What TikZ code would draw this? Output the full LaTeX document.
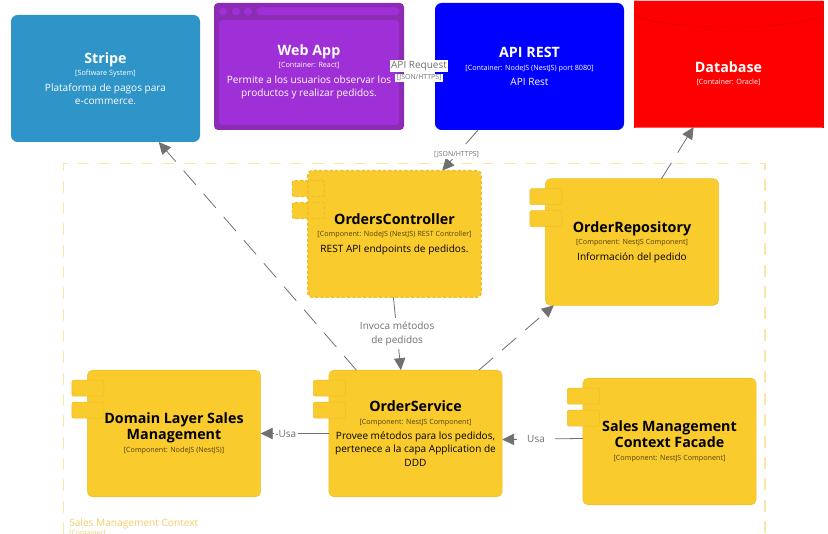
\documentclass[tikz,border=0pt]{standalone}
\usepackage{fontspec}
\setmainfont{Open Sans}
\usetikzlibrary{arrows.meta,shapes.geometric}
\definecolor{compyellow}{HTML}{FACB2D}
\definecolor{compedge}{HTML}{EDBE2A}
\definecolor{webouter}{HTML}{8C2CB4}
\definecolor{webinner}{HTML}{9F30D8}
\definecolor{stripeblue}{HTML}{2F94C7}
\definecolor{arrowgray}{HTML}{707070}
\definecolor{boundary}{HTML}{FBE6A6}
\definecolor{boundtext}{HTML}{F2CD6B}
\newcommand{\ttl}[1]{{\fontsize{10.7}{13}\selectfont\bfseries #1}}
\newcommand{\typ}[1]{{\fontsize{5.4}{9}\selectfont #1}}
\newcommand{\ctyp}[1]{{\fontsize{5.4}{9}\selectfont\color{black!68!compyellow} #1}}
\newcommand{\dsc}[1]{{\fontsize{7.55}{10}\selectfont #1}}
\tikzset{
    sysbox/.style={rounded corners=5pt, minimum width=141.75pt, minimum height=95.25pt, inner sep=0pt, outer sep=0pt, align=center, text=white, font=\fontsize{8}{10}\selectfont},
    compbox/.style={rounded corners=4pt, fill=compyellow, draw=compedge, minimum width=130pt, minimum height=95pt, inner sep=0pt, outer sep=0pt, align=center, text=black, font=\fontsize{8}{10}\selectfont},
    comptab/.style={rounded corners=1.5pt, fill=compyellow, draw=compedge},
    rel/.style={draw=arrowgray, line width=.6pt, dash pattern=on 14pt off 9pt, -{Triangle[length=9pt,width=8.5pt]}},
    rellabel/.style={fill=white, inner sep=1pt, text=arrowgray, align=center, font=\fontsize{7.5}{10}\selectfont},
    techlabel/.style={rellabel, font=\fontsize{5.2}{7}\selectfont}
}
\begin{document}
\begin{tikzpicture}[x=.75pt,y=-.75pt]
    \useasboundingbox (0,0) rectangle (828,534);
    \fill[white] (0,0) rectangle (828,534);

    % context boundary, its lower edge is off the picture
    \draw[boundary, line width=.8pt, dash pattern=on 9pt off 7pt] (63.5,534) -- (63.5,163.5) -- (765,163.5) -- (765,534);
    \node[anchor=west, inner sep=0pt, text=boundtext, font=\fontsize{7.6}{9}\selectfont] (ctxname) at (69,523.5) {Sales Management Context};
    \node[anchor=west, inner sep=0pt, text=boundtext, font=\fontsize{5.2}{7}\selectfont] (ctxtype) at (69,534) {[Container]};

    % external systems and containers
    \node[sysbox, fill=stripeblue] (stripe) at (105.5,78.5) {\ttl{Stripe}\\[-.5pt]\typ{[Software System]}\\[1.5pt]\dsc{Plataforma de pagos para}\\\dsc{e-commerce.}};

    \fill[webouter, rounded corners=3pt] (214,3) rectangle (404,130);
    \fill[webinner, rounded corners=2.5pt] (219,20) rectangle (399,125);
    \fill[webinner, rounded corners=2.5pt] (257,7.5) rectangle (399,15.5);
    \foreach \dotx in {223,236,248}
        \fill[webinner] (\dotx,11.5) circle[radius=4];
    \node[sysbox, rounded corners=0pt] (webapp) at (309,71.5) {\ttl{Web App}\\[-.5pt]\typ{[Container: React]}\\[1.5pt]\dsc{Permite a los usuarios observar los}\\\dsc{productos y realizar pedidos.}};

    \node[sysbox, fill=blue] (api) at (529.5,66.5) {\ttl{API REST}\\[-.5pt]\typ{[Container: NodeJS (NestJS) port 8080]}\\[1.5pt]\dsc{API Rest}};

    \node[cylinder, shape border rotate=90, aspect=.127, cylinder uses custom fill, cylinder body fill=red, cylinder end fill=red, draw=red, line width=.3pt, minimum width=141.75pt, minimum height=94.5pt, inner sep=0pt, outer sep=0pt, anchor=shape center] (db) at (728.5,64) {};
    \draw[red!88!black, line width=.4pt] (634,15) .. controls (660,31) and (797,31) .. (823,15);
    \node[align=center, text=white, inner sep=0pt, font=\fontsize{8}{10}\selectfont] (dbtext) at (728.5,73.5) {\ttl{Database}\\[-.5pt]\typ{[Container: Oracle]}};

    % components
    \node[compbox, draw=none] (controller) at (394.5,234) {\ttl{OrdersController}\\[-.5pt]\ctyp{[Component: NodeJS (NestJS) REST Controller]}\\[1.5pt]\dsc{REST API endpoints de pedidos.}};
    \node[compbox] (repo) at (632,242) {\ttl{OrderRepository}\\[-.5pt]\ctyp{[Component: NestJS Component]}\\[1.5pt]\dsc{Información del pedido}};
    \node[compbox] (domain) at (174,433.5) {\ttl{Domain Layer Sales}\\[.5pt]\ttl{Management}\\\ctyp{[Component: NodeJS (NestJS)]}};
    \node[compbox] (service) at (415.5,433.5) {\ttl{OrderService}\\[-.5pt]\ctyp{[Component: NestJS Component]}\\[1.5pt]\dsc{Provee métodos para los pedidos,}\\\dsc{pertenece a la capa Application de}\\\dsc{DDD}};
    \node[compbox] (facade) at (669.5,441.5) {\ttl{Sales Management}\\[.5pt]\ttl{Context Facade}\\\ctyp{[Component: NestJS Component]}};

    % relations
    \draw[rel] (service.133.6) -- (stripe.-50.4);
    \draw[rel] (api.-129.6) -- node[techlabel, pos=.6] (apilabel) {[JSON/HTTPS]} (controller.53.6);
    \draw[rel] (repo.65.3) -- (db.-119.4);
    \draw[rel, solid] (controller.-91.4) -- node[rellabel, inner ysep=3pt] (invlabel) {Invoca métodos\\de pedidos} (service.103.7);
    \draw[rel] (service.45.5) -- (repo.-141.4);
    \draw[rel, solid] (service.west) -- node[rellabel, pos=.63] (uselabel) {-Usa} (domain.east);
    \draw[rel, solid] (facade.178) -- node[rellabel, pos=.58, inner xsep=7.5pt] (usalabel) {Usa} (service.-4);

    \node[rellabel, inner sep=.8pt] (reqlabel) at (419,66) {API Request};
    \node[techlabel, inner sep=.8pt] (reqtech) at (419,78) {[JSON/HTTPS]};

    % tabs on the left side of each component
    \foreach \comp in {repo,domain,service,facade} {
        \draw[comptab] ([shift={(-15.5,10)}]\comp.north west) rectangle +(32,16);
        \draw[comptab] ([shift={(-15.5,32)}]\comp.north west) rectangle +(32,16);
    }
    \draw[comptab, dash pattern=on 2.5pt off 1.5pt, line width=.8pt] ([shift={(-15.5,10)}]controller.north west) rectangle +(32,16);
    \draw[comptab, dash pattern=on 2.5pt off 1.5pt, line width=.8pt] ([shift={(-15.5,32)}]controller.north west) rectangle +(32,16);
    \draw[compedge, line width=1pt, dash pattern=on 2.5pt off 1.5pt, rounded corners=3pt] (controller.north west) rectangle (controller.south east);
\end{tikzpicture}
\end{document}
